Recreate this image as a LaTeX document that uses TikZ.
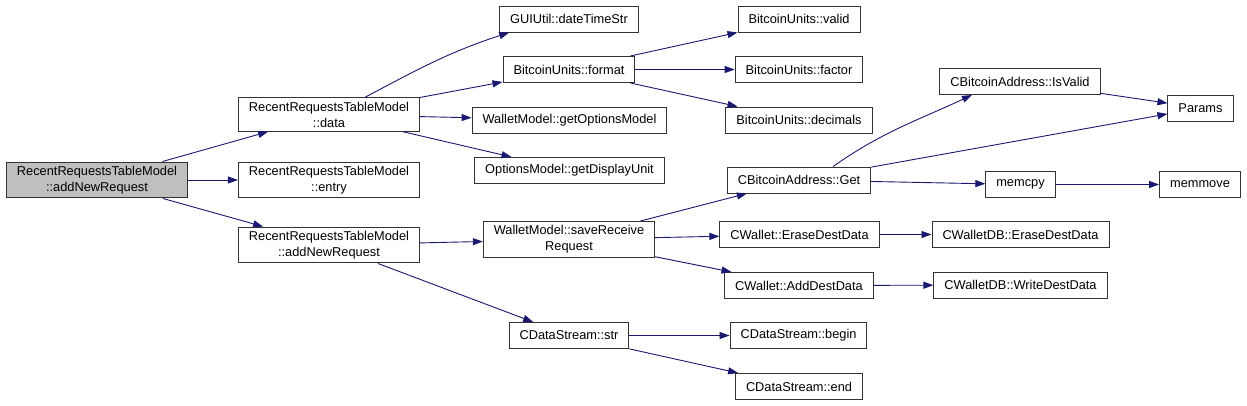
\documentclass[tikz,border=0pt]{standalone}
\usepackage{fontspec}
\setmainfont{Liberation Sans}
\usepackage{tikz}
\usetikzlibrary{arrows.meta}
\definecolor{callblue}{RGB}{25,25,112}
\definecolor{curgray}{RGB}{191,191,191}

\begin{document}
\begin{tikzpicture}[x=1pt, y=-1pt,
    font=\fontsize{12.8}{16}\selectfont,
    fn/.style={draw=black!80, line width=1pt, fill=white, align=center,
      inner xsep=10.5pt, inner ysep=4pt, minimum height=26pt},
    cur/.style={fn, fill=curgray},
    call/.style={-{Triangle[length=10pt,width=7pt]}, callblue, line width=0.9pt}]
  \useasboundingbox (0,0) rectangle (1247,405);
  % first column
  \node[cur] (main) at (97,180) {RecentRequestsTableModel\\::addNewRequest};
  % second column
  \node[fn] (data) at (329,114.5) {RecentRequestsTableModel\\::data};
  \node[fn] (entry) at (329,180) {RecentRequestsTableModel\\::entry};
  \node[fn] (addreq) at (329,245) {RecentRequestsTableModel\\::addNewRequest};
  % third column
  \node[fn] (dtime) at (569,19) {GUIUtil::dateTimeStr};
  \node[fn] (fmt) at (569,69.5) {BitcoinUnits::format};
  \node[fn] (optmodel) at (569.5,120) {WalletModel::getOptionsModel};
  \node[fn] (dispunit) at (569.5,170.5) {OptionsModel::getDisplayUnit};
  \node[fn] (save) at (569,239.5) {WalletModel::saveReceive\\Request};
  \node[fn] (str) at (569,335.5) {CDataStream::str};
  % fourth column
  \node[fn] (valid) at (799,19) {BitcoinUnits::valid};
  \node[fn] (factor) at (799,69.5) {BitcoinUnits::factor};
  \node[fn] (decimals) at (799,120) {BitcoinUnits::decimals};
  \node[fn] (get) at (799,180) {CBitcoinAddress::Get};
  \node[fn] (erase) at (799.5,234.5) {CWallet::EraseDestData};
  \node[fn] (adddest) at (799,285.5) {CWallet::AddDestData};
  \node[fn] (sbegin) at (798.5,335.5) {CDataStream::begin};
  \node[fn] (send) at (799,386.5) {CDataStream::end};
  % fifth column
  \node[fn] (isvalid) at (1020,81.5) {CBitcoinAddress::IsValid};
  \node[fn] (memcpy) at (1020.5,184.5) {memcpy};
  \node[fn] (dberase) at (1020.5,234.5) {CWalletDB::EraseDestData};
  \node[fn] (dbwrite) at (1020.5,285) {CWalletDB::WriteDestData};
  % last column
  \node[fn] (params) at (1200.5,108) {Params};
  \node[fn] (memmove) at (1200,184.5) {memmove};
  % calls
  \draw[call] (main) -- (data);
  \draw[call] (main) -- (entry);
  \draw[call] (main) -- (addreq);
  \draw[call] ([xshift=36pt]data.north) to[out=28,in=198] ([xshift=10pt]dtime.south west);
  \draw[call] (data) -- (fmt);
  \draw[call] (data) -- (optmodel);
  \draw[call] (data) -- (dispunit);
  \draw[call] (fmt) -- (valid);
  \draw[call] (fmt) -- (factor);
  \draw[call] (fmt) -- (decimals);
  \draw[call] (addreq) -- (save);
  \draw[call] (addreq) -- (str);
  \draw[call] (save) -- (get);
  \draw[call] (save) -- (erase);
  \draw[call] (save) -- (adddest);
  \draw[call] (str) -- (sbegin);
  \draw[call] (str) -- (send);
  \draw[call] ([xshift=34pt]get.north) to[out=35,in=205] ([xshift=-48pt]isvalid.south);
  \draw[call] (get) -- (params);
  \draw[call] (get) -- (memcpy);
  \draw[call] (isvalid) -- (params);
  \draw[call] (memcpy) -- (memmove);
  \draw[call] (erase) -- (dberase);
  \draw[call] (adddest) -- (dbwrite);
\end{tikzpicture}
\end{document}
